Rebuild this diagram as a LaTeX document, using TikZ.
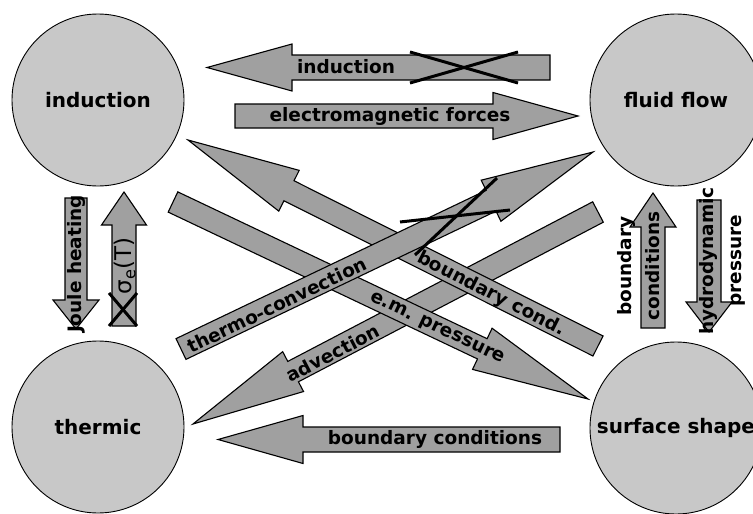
\documentclass[tikz,border=0pt]{standalone}
\usepackage{fontspec}
\setmainfont{DejaVu Sans}
\usetikzlibrary{calc}
\definecolor{arrgray}{RGB}{160,160,160}
\definecolor{circgray}{RGB}{200,200,200}
% #1 tail, #2 tip, #3 shaft half width, #4 head half width, #5 head length
\newcommand{\blockarr}[5]{%
  \coordinate (hb) at ($(#2)!#5!(#1)$);
  \filldraw[barrow] ($(#1)!#3!90:(#2)$) -- ($(hb)!#3!-90:(#1)$) -- ($(hb)!#4!-90:(#1)$)
    -- (#2) -- ($(hb)!#4!90:(#1)$) -- ($(hb)!#3!90:(#1)$) -- ($(#1)!#3!-90:(#2)$) -- cycle;}
\begin{document}
\begin{tikzpicture}[x=1pt,y=-1pt,
  barrow/.style={fill=arrgray, draw=black, line width=1.1pt, line join=miter},
  state/.style={circle, draw=black, line width=0.9pt, fill=circgray, minimum size=172pt, inner sep=0pt,
    font=\fontsize{20}{24}\selectfont\bfseries},
  lbl/.style={font=\fontsize{18.5}{22}\selectfont\bfseries, inner sep=0pt},
  lbltwo/.style={font=\fontsize{18.5}{28}\selectfont\bfseries, inner sep=0pt, align=center},
  crossline/.style={line width=3pt, draw=black}]
\useasboundingbox (0,0) rectangle (753,514);
\fill[white] (0,0) rectangle (753,514);
\clip (0,0) rectangle (753,514);

% state circles
\node[state] (ind) at (98,100) {induction};
\node[state] (flu) at (676,100) {fluid flow};
\node[state] (the) at (98,427) {thermic};
\node[state] (sur) at (676,428) {surface shape};

% arrow end points
\coordinate (Et) at (550,67.5);  \coordinate (Eh) at (207,67.5);
\coordinate (Ft) at (235,116);   \coordinate (Fh) at (578,116);
\coordinate (Gt) at (560,439.5); \coordinate (Gh) at (218,439.5);
\coordinate (Ht) at (76,198);    \coordinate (Hh) at (76,329);
\coordinate (It) at (124,326);   \coordinate (Ih) at (124,192);
\coordinate (Jt) at (653,328);   \coordinate (Jh) at (653,193);
\coordinate (Kt) at (709,200);   \coordinate (Kh) at (709,332);
\coordinate (Dt) at (598,212);   \coordinate (Dh) at (193,424);
\coordinate (At) at (598,346);   \coordinate (Ah) at (188,140);
\coordinate (Bt) at (173,202);   \coordinate (Bh) at (588,399);
\coordinate (Ct) at (181,349);   \coordinate (Ch) at (593,152);

% horizontal arrows
\blockarr{Et}{Eh}{12.5pt}{23.5pt}{85pt}
\node[lbl] (lE) at (346,67) {induction};
\blockarr{Ft}{Fh}{12pt}{23.5pt}{85pt}
\node[lbl] (lF) at (390,116) {electromagnetic forces};
\blockarr{Gt}{Gh}{12.5pt}{24pt}{85pt}
\node[lbl] (lG) at (435,439) {boundary conditions};

% vertical arrows
\blockarr{Ht}{Hh}{11pt}{23pt}{29pt}
\node[lbl, rotate=90] (lH) at (76,264) {Joule heating};
\blockarr{It}{Ih}{12pt}{22.5pt}{33pt}
\node[inner sep=0pt, rotate=90, font=\fontsize{23}{26}\selectfont] (lI) at (125,266) {σ\textsubscript{e}(T)};
\blockarr{Jt}{Jh}{12pt}{23pt}{34pt}
\node[lbltwo, rotate=90] (lJ) at (639,266) {boundary\\conditions};
\blockarr{Kt}{Kh}{12pt}{23pt}{30pt}
\node[lbltwo, rotate=90] (lK) at (722,261) {hydrodynamic\\pressure};

% diagonal arrows
\blockarr{Dt}{Dh}{11.5pt}{22.5pt}{113pt}
\node[lbl, rotate=27.6] (lD) at (333,353) {advection};
\blockarr{At}{Ah}{11.2pt}{22.8pt}{113pt}
\node[lbl, rotate=-26.8] (lA) at (491,294) {boundary cond.};
\blockarr{Bt}{Bh}{11.2pt}{22.8pt}{117pt}
\node[lbl, rotate=-25.4] (lB) at (437,329) {e.m. pressure};
\blockarr{Ct}{Ch}{11.5pt}{22.8pt}{113pt}
\node[lbl, rotate=25.6] (lC) at (277,305) {thermo-convection};

% crossing-out marks
\draw[crossline] (410,52) -- (518,83);
\draw[crossline] (410,83) -- (518,52);
\draw[crossline] (109,293) -- (137,326);
\draw[crossline] (109,326) -- (137,293);
\draw[crossline] (400,222) -- (510,210);
\draw[crossline] (415,255) -- (497,178);
\end{tikzpicture}
\end{document}
